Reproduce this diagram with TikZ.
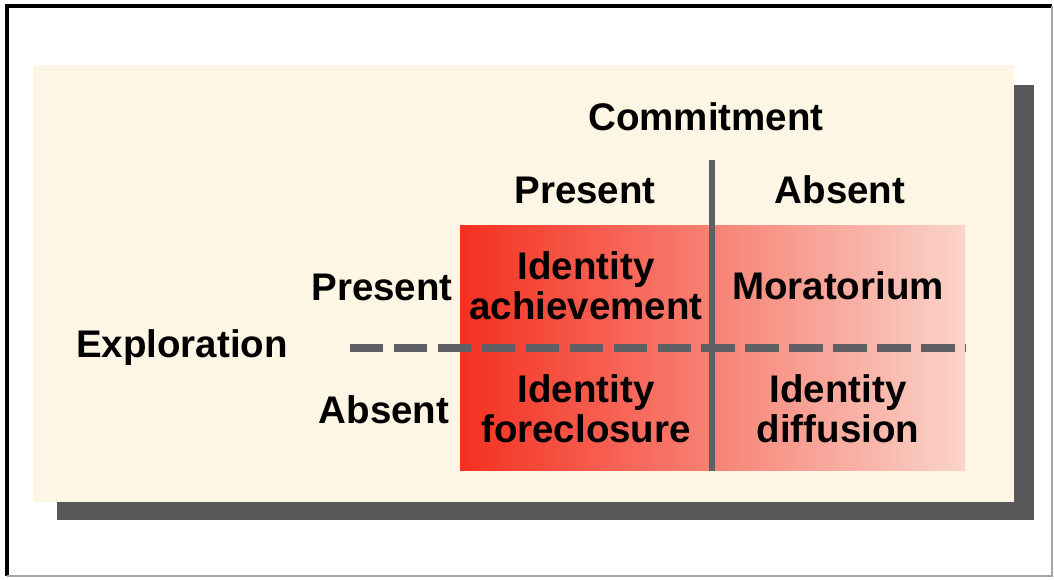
\documentclass[tikz,border=0pt]{standalone}
\usepackage{fontspec}
\setmainfont{Liberation Sans}
\usepackage{xcolor}
\usetikzlibrary{positioning}

\definecolor{cream}{RGB}{253,246,228}
\definecolor{shadowgray}{RGB}{88,88,90}
\definecolor{linegray}{RGB}{95,95,100}
\definecolor{hotred}{RGB}{244,48,32}
\definecolor{midred}{RGB}{247,116,96}
\definecolor{palered}{RGB}{250,212,202}

\begin{document}
\begin{tikzpicture}[
    label/.style={font=\bfseries\fontsize{10.95}{11.4}\selectfont, align=center, inner sep=0pt},
    cell/.style={label, minimum width=2.52cm, minimum height=1.22cm},
    divider/.style={draw=linegray, line width=1.7pt},
]
\useasboundingbox (0,0) rectangle (10.54,5.79);

% outer frame
\draw[black, line width=1.1pt] (0.07,0.03) -- (0.07,5.73) -- (10.52,5.73);
\draw[gray!70, line width=0.5pt] (10.52,5.73) -- (10.52,0.03) -- (0.07,0.03);

% panel with drop shadow
\fill[shadowgray] (0.57,0.59) rectangle (10.34,4.94);
\fill[cream] (0.33,0.77) rectangle (10.14,5.14);

% shaded block behind the four cells
\node[minimum width=5.05cm, minimum height=2.45cm, inner sep=0pt,
      left color=hotred, middle color=midred, right color=palered] (grid) at (7.125,2.315) {};

% cells
\node[cell] (ach)  at (5.86,2.93) {Identity\\achievement};
\node[cell] (mor)  at (8.38,2.93) {Moratorium};
\node[cell] (fore) at (5.86,1.70) {Identity\\foreclosure};
\node[cell] (diff) at (8.38,1.70) {Identity\\diffusion};

% headings
\node[label] (commit) at (7.06,4.62) {Commitment};
\node[label] (cpres) at (5.85,3.89) {Present};
\node[label] (cabs)  at (8.40,3.89) {Absent};
\node[label] (rpres) at (3.82,2.92) {Present};
\node[label] (rabs)  at (3.84,1.69) {Absent};
\node[label] (explor) at (1.82,2.31) {Exploration};

% dividers
\coordinate (vtop) at (7.12,4.19);
\coordinate (hleft) at (3.50,2.31);
\draw[divider] (vtop) -- (vtop |- grid.south);
\draw[divider, line width=2pt, dash pattern=on 9.5pt off 3pt] (hleft) -- (hleft -| grid.east);
\end{tikzpicture}
\end{document}
